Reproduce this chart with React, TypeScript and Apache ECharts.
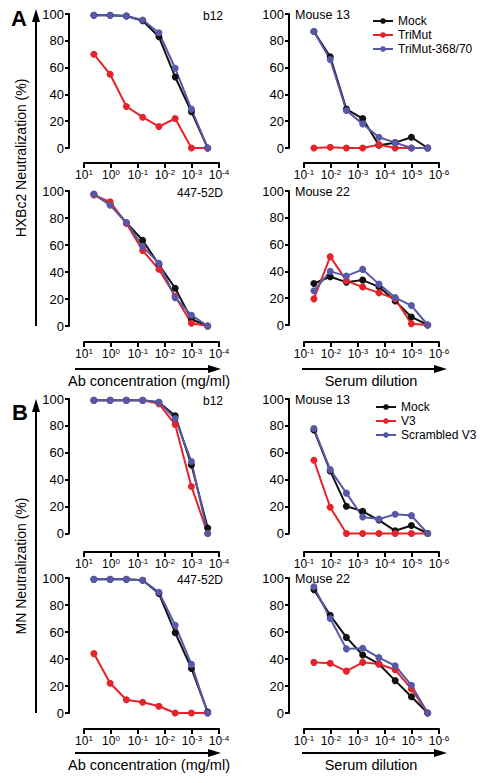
import React, { useEffect, useRef } from 'react';
import * as echarts from 'echarts';

// X values: Ab concentration (mg/ml) and serum dilution (4-fold series)
const abConc = [4.3, 1.075, 0.269, 0.0672, 0.0168, 0.0042, 0.00105, 0.000262];
const serumDil = [0.043, 0.0107, 0.00269, 0.000672, 0.000168, 0.000042, 0.0000105, 0.00000262];

// Tick labels (decade exponents)
const abTicks = [1, 0, -1, -2, -3, -4];
const serumTicks = [-1, -2, -3, -4, -5, -6];

const hxbNames = ['Mock', 'TriMut', 'TriMut-368/70'];
const mnNames = ['Mock', 'V3', 'Scrambled V3'];

// Panel A: HXBc2 neutralization (%)
const hxbB12Mock = [99, 99, 98.5, 95, 83, 53, 27, 0];
const hxbB12TriMut = [70, 55, 31, 23, 16, 22, 0, 0];
const hxbB12Tri368 = [99, 99, 98.5, 95.5, 86, 59.5, 29, 0];

const hxbM13Mock = [87, 68, 29, 22, 2, 4, 8, 0];
const hxbM13TriMut = [0, 0.5, 0, 0, 2.5, 0, 0, 0];
const hxbM13Tri368 = [87, 66, 28, 18, 8, 4, 0, 0];

const hxb447Mock = [97.5, 90, 76.5, 63.5, 45.5, 28, 5, 0];
const hxb447TriMut = [97, 92, 76, 56, 42, 22, 2, 0];
const hxb447Tri368 = [97.8, 89.5, 76.7, 59, 46.5, 21, 8, 0];

const hxbM22Mock = [31, 36, 32, 33.5, 28.5, 18, 6, 0];
const hxbM22TriMut = [19.5, 51, 33, 28.3, 24, 19.5, 1, 0];
const hxbM22Tri368 = [25.5, 40, 36.5, 41.5, 30.5, 20.5, 14.5, 0];

// Panel B: MN neutralization (%)
const mnB12Mock = [99, 99, 99, 99, 97.5, 87.5, 51, 4];
const mnB12V3 = [99, 99, 99, 99, 96.5, 81, 35, 0];
const mnB12Scr = [99, 99, 99, 99, 97.5, 85.5, 53.5, 0];

const mnM13Mock = [77, 46.5, 20.3, 16.5, 10, 2, 6, 0];
const mnM13V3 = [54.5, 19.5, 0, 0, 0, 0, 0, 0];
const mnM13Scr = [78, 47.5, 30, 12.3, 10.7, 14.3, 13.3, 0];

const mn447Mock = [99, 99, 99, 98.3, 88.5, 59.5, 33, 0.7];
const mn447V3 = [44, 22, 9.8, 8, 5, 0, 0, 0];
const mn447Scr = [99, 99, 99, 98.3, 89.4, 65, 36, 0];

const mnM22Mock = [91.4, 72.3, 56, 43, 36.3, 24, 12, 0];
const mnM22V3 = [37.5, 36.8, 31, 37.5, 36.3, 32, 17.8, 0];
const mnM22Scr = [93.5, 70, 47.5, 48, 41, 35, 20.5, 0];

const COLORS = ['#111111', '#E5232A', '#5659A8'];
const FONT = "'Liberation Sans', Arial, Helvetica, sans-serif";

type Panel = {
  left: number; top: number; height: number; xOff: number;
  kind: 'ab' | 'serum';
  label: string;
  names: string[];
  values: number[][];
};

const panels: Panel[] = [
  { left: 84, top: 14, height: 134, xOff: 15, kind: 'ab', label: 'b12', names: hxbNames, values: [hxbB12Mock, hxbB12TriMut, hxbB12Tri368] },
  { left: 304, top: 14, height: 134, xOff: 15, kind: 'serum', label: 'Mouse 13', names: hxbNames, values: [hxbM13Mock, hxbM13TriMut, hxbM13Tri368] },
  { left: 84, top: 191, height: 135, xOff: 16, kind: 'ab', label: '447-52D', names: hxbNames, values: [hxb447Mock, hxb447TriMut, hxb447Tri368] },
  { left: 304, top: 191, height: 134, xOff: 17, kind: 'serum', label: 'Mouse 22', names: hxbNames, values: [hxbM22Mock, hxbM22TriMut, hxbM22Tri368] },
  { left: 84, top: 399, height: 134.5, xOff: 18.5, kind: 'ab', label: 'b12', names: mnNames, values: [mnB12Mock, mnB12V3, mnB12Scr] },
  { left: 304, top: 399, height: 134.5, xOff: 18.5, kind: 'serum', label: 'Mouse 13', names: mnNames, values: [mnM13Mock, mnM13V3, mnM13Scr] },
  { left: 84, top: 578, height: 135, xOff: 16, kind: 'ab', label: '447-52D', names: mnNames, values: [mn447Mock, mn447V3, mn447Scr] },
  { left: 304, top: 578, height: 135, xOff: 16, kind: 'serum', label: 'Mouse 22', names: mnNames, values: [mnM22Mock, mnM22V3, mnM22Scr] },
];

function supLabel(v: number) {
  const e = Math.round(Math.log10(v));
  return `{b|10}{s|${e}}`;
}

function txt(text: string, x: number, y: number, size: number, align: string, extra: any = {}) {
  return {
    type: 'text', x, y, ...extra,
    style: {
      text, fontSize: size, fontFamily: FONT, fill: '#000',
      align, verticalAlign: 'middle', textAlign: align, textVerticalAlign: 'middle',
      fontWeight: extra.fontWeight || 'normal',
    },
  };
}

function line(x1: number, y1: number, x2: number, y2: number) {
  return { type: 'line', shape: { x1, y1, x2, y2 }, style: { stroke: '#000', lineWidth: 2 } };
}

function poly(points: number[][]) {
  return { type: 'polygon', shape: { points }, style: { fill: '#000' } };
}

function buildOption() {
  const grid: any[] = [];
  const xAxis: any[] = [];
  const yAxis: any[] = [];
  const series: any[] = [];
  const graphic: any[] = [];

  panels.forEach((p, i) => {
    grid.push({ left: p.left, top: p.top, width: 135, height: p.height, containLabel: false });
    const ticks = p.kind === 'ab' ? abTicks : serumTicks;
    xAxis.push({
      type: 'log', logBase: 10, gridIndex: i, inverse: true,
      min: Math.pow(10, ticks[ticks.length - 1]), max: Math.pow(10, ticks[0]),
      offset: p.xOff,
      axisLine: { show: true, onZero: false, lineStyle: { color: '#000', width: 2 } },
      axisTick: { show: true, length: 5, lineStyle: { color: '#000', width: 2 } },
      minorTick: { show: false },
      splitLine: { show: false },
      axisLabel: {
        formatter: supLabel, margin: 5, showMinLabel: true, showMaxLabel: true,
        rich: {
          b: { fontSize: 12, lineHeight: 14, fontFamily: FONT, color: '#000' },
          s: { fontSize: 8, lineHeight: 9, verticalAlign: 'top', fontFamily: FONT, color: '#000' },
        },
      },
    });
    yAxis.push({
      type: 'value', gridIndex: i, min: 0, max: 100, interval: 20, offset: 15,
      axisLine: { show: true, onZero: false, lineStyle: { color: '#000', width: 2 } },
      axisTick: { show: true, length: 4, lineStyle: { color: '#000', width: 2 } },
      splitLine: { show: false },
      axisLabel: { fontSize: 13, color: '#000', margin: 5, fontFamily: FONT },
    });
    const xs = p.kind === 'ab' ? abConc : serumDil;
    p.values.forEach((vals, k) => {
      series.push({
        type: 'line', name: p.names[k], xAxisIndex: i, yAxisIndex: i,
        data: vals.map((v, j) => [xs[j], v]),
        symbol: 'circle', symbolSize: 7, clip: false,
        lineStyle: { color: COLORS[k], width: 2 },
        itemStyle: { color: COLORS[k] },
        emphasis: { disabled: true },
      });
    });
    if (p.kind === 'ab') graphic.push(txt(p.label, 223, p.top + 2, 12, 'right'));
    else graphic.push(txt(p.label, 295, p.top + 1, 12.5, 'left'));
  });

  // Panel letters
  graphic.push(txt('A', 19, 18, 22, 'center', { fontWeight: 'bold' }));
  graphic.push(txt('B', 20, 412, 22, 'center', { fontWeight: 'bold' }));

  // Y titles
  graphic.push(txt('HXBc2 Neutralization (%)', 21, 158, 14, 'center', { rotation: Math.PI / 2 }));
  graphic.push(txt('MN Neutralization (%)', 21, 566, 14, 'center', { rotation: Math.PI / 2 }));

  // Vertical arrows
  graphic.push(line(36, 326, 36, 20));
  graphic.push(poly([[36, 9], [32, 22], [40, 22]]));
  graphic.push(line(36, 713, 36, 410));
  graphic.push(poly([[36, 399], [32, 412], [40, 412]]));

  // Horizontal arrows
  [369, 753].forEach((y) => {
    graphic.push(line(75, y, 212, y));
    graphic.push(poly([[221, y], [208, y - 4], [208, y + 4]]));
    graphic.push(line(302, y, 438, y));
    graphic.push(poly([[447, y], [434, y - 4], [434, y + 4]]));
  });

  // Axis titles
  [381, 765].forEach((y) => {
    graphic.push(txt('Ab concentration (mg/ml)', 149, y, 14.5, 'center'));
    graphic.push(txt('Serum dilution', 371, y, 14.5, 'center'));
  });

  const legendBase = {
    orient: 'vertical', itemWidth: 20, itemHeight: 7, itemGap: 2,
    textStyle: { fontSize: 12, color: '#000', fontFamily: FONT },
    selectedMode: false,
  };

  return {
    animation: false,
    backgroundColor: '#fff',
    textStyle: { fontFamily: FONT },
    grid, xAxis, yAxis, series, graphic,
    legend: [
      { ...legendBase, data: hxbNames, left: 367, top: 10 },
      { ...legendBase, data: mnNames, left: 370, top: 396 },
    ],
  };
}

export default function App() {
  const ref = useRef<HTMLDivElement>(null);
  useEffect(() => {
    if (!ref.current) return;
    const chart = echarts.init(ref.current, undefined, { renderer: 'svg' });
    chart.setOption(buildOption() as any);
    return () => chart.dispose();
  }, []);
  return <div ref={ref} style={{ position: 'fixed', left: 0, top: 0, width: 480, height: 783, background: '#fff' }} />;
}
